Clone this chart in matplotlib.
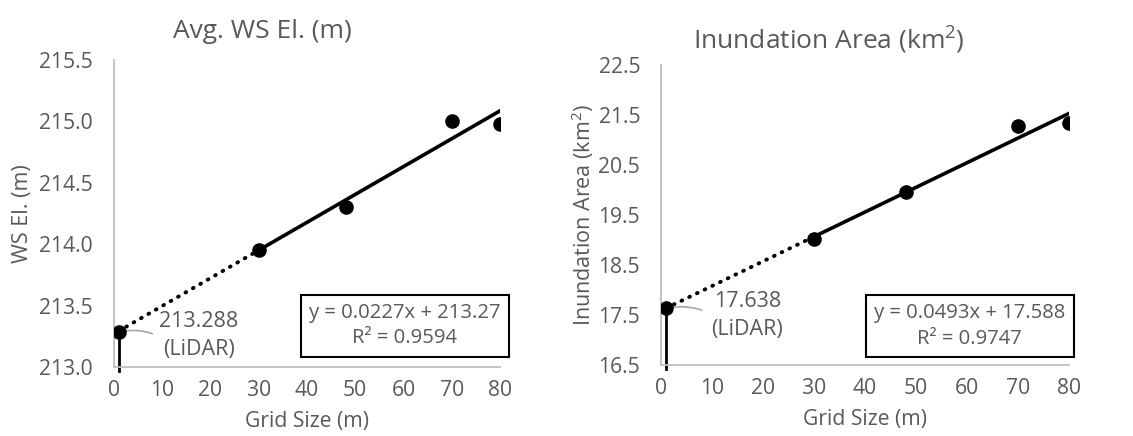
import numpy as np
import matplotlib.pyplot as plt

plt.rcParams['font.family'] = ['Open Sans', 'DejaVu Sans']
plt.rcParams['mathtext.fontset'] = 'custom'
plt.rcParams['mathtext.rm'] = 'Open Sans'
plt.rcParams['mathtext.it'] = 'Open Sans'

grid = [1, 30, 48, 70, 80]
ws_el = [213.288, 213.95, 214.30, 215.00, 214.98]
area = [17.638, 19.03, 19.97, 21.28, 21.35]

ws_fit = (0.0227, 213.27)
area_fit = (0.0493, 17.588)

ws_yticks = [213.0, 213.5, 214.0, 214.5, 215.0, 215.5]
area_yticks = [16.5, 17.5, 18.5, 19.5, 20.5, 21.5, 22.5]
xticks = [0, 10, 20, 30, 40, 50, 60, 70, 80]

gray = '#595959'
fig = plt.figure(figsize=(11.33, 4.36), dpi=100)
ax1 = fig.add_axes([0.1006, 0.1583, 0.3407, 0.7041])
ax2 = fig.add_axes([0.5834, 0.1628, 0.3601, 0.688])


def panel(ax, y, fit, yticks, ylabel, eq, lidar_txt, txt_xy, box_xy, ylab_x, xlab_y):
    ax.set_xlim(0, 80)
    ax.set_ylim(yticks[0], yticks[-1])
    ax.set_xticks(xticks)
    ax.set_yticks(yticks)
    ax.set_yticklabels(['%.1f' % t for t in yticks])
    ax.tick_params(length=0, labelsize=15.2, colors=gray)
    ax.tick_params(axis='x', pad=9.5)
    ax.tick_params(axis='y', pad=15)
    for s in ['top', 'right']:
        ax.spines[s].set_visible(False)
    for s in ['left', 'bottom']:
        ax.spines[s].set_color('#BFBFBF')
        ax.spines[s].set_linewidth(1.3)
    ax.set_xlabel('Grid Size (m)', fontsize=15.2, color=gray)
    ax.set_ylabel(ylabel, fontsize=15.5, color=gray)
    ax.xaxis.set_label_coords(0.5, xlab_y)
    ax.yaxis.set_label_coords(ylab_x, 0.5)

    m, b = fit
    xd = np.array([grid[0], grid[1]])
    xs = np.array([grid[1], grid[-1]])
    ax.plot(xd, m * xd + b, color='black', lw=2.8, ls=(0, (0.2, 2.0)),
            dash_capstyle='round')
    ax.plot(xs, m * xs + b, color='black', lw=2.6)
    ax.plot(grid, y, 'o', color='black', ms=9.5, zorder=5)
    # drop line from LiDAR point
    span = yticks[-1] - yticks[0]
    ax.plot([grid[0], grid[0]], [yticks[0] - span * 0.013, y[0]], color='black',
            lw=2, clip_on=False)
    ax.annotate('', xy=(grid[0] + 0.5, y[0]), xytext=(8.5, y[0] - span * 0.01),
                arrowprops=dict(arrowstyle='-', color='#A6A6A6', lw=1.2,
                                connectionstyle='arc3,rad=0.15'))
    ax.text(txt_xy[0], txt_xy[1], lidar_txt, ha='center', va='center',
            fontsize=15.5, color=gray, linespacing=1.4)
    ax.text(box_xy[0], box_xy[1], eq, transform=ax.transAxes, ha='center',
            va='center', fontsize=14.6, color=gray, linespacing=1.35,
            bbox=dict(boxstyle='square,pad=0.4', fc='white', ec='black', lw=1.5))


panel(ax1, ws_el, ws_fit, ws_yticks, 'WS El. (m)',
      'y = 0.0227x + 213.27\nR² = 0.9594', '213.288\n(LiDAR)',
      (17.6, 213.257), (0.753, 0.134), -0.21, -0.143)
panel(ax2, area, area_fit, area_yticks, 'Inundation Area (km$^2$)',
      'y = 0.0493x + 17.588\nR² = 0.9747', '17.638\n(LiDAR)',
      (16.9, 17.49), (0.757, 0.13), -0.159, -0.147)

fig.text(262 / 1133, 1 - 32 / 436, 'Avg. WS El. (m)', ha='center', va='center',
         fontsize=19, color=gray)
fig.text(829 / 1133, 1 - 40 / 436, 'Inundation Area (km$^2$)', ha='center',
         va='center', fontsize=19, color=gray)

fig.savefig('out.png', dpi=100)
